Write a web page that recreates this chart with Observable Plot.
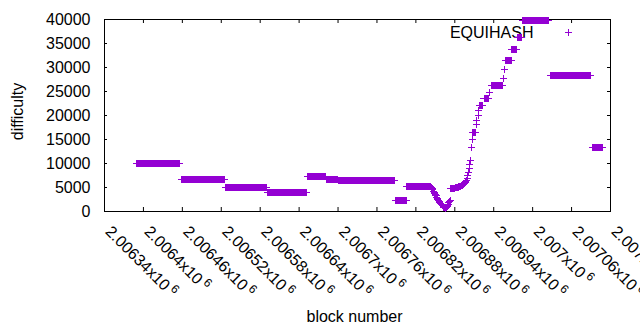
<!DOCTYPE html>
<html><head><meta charset="utf-8">
<script src="https://cdn.jsdelivr.net/npm/d3@7"></script>
<script src="https://cdn.jsdelivr.net/npm/@observablehq/plot@0.6"></script>
<style>body{margin:0;background:#fff}#chart svg{display:block}</style>
</head><body><div id="chart"></div>
<script>
const seriesName = "EQUIHASH";
const xLabel = "block number";
const yLabel = "difficulty";
const xTicks = [2006340, 2006400, 2006460, 2006520, 2006580, 2006640, 2006700, 2006760, 2006820, 2006880, 2006940, 2007000, 2007060, 2007120];
const xTickLabels = ["2.00634", "2.0064", "2.00646", "2.00652", "2.00658", "2.00664", "2.0067", "2.00676", "2.00682", "2.00688", "2.00694", "2.007", "2.00706", "2.00712"];
const xTickExponent = "6";
const yTicks = [0, 5000, 10000, 15000, 20000, 25000, 30000, 35000, 40000];
const yTickLabels = ["0", "5000", "10000", "15000", "20000", "25000", "30000", "35000", "40000"];

// flat runs: consecutive blocks sharing one difficulty
const runStart = [2006390, 2006458, 2006527, 2006591, 2006653, 2006682, 2006700, 2006789, 2006806, 2006908, 2006918, 2006925, 2006936, 2006958, 2006968, 2006976, 2006984, 2007028, 2007092];
const runEnd   = [2006456, 2006525, 2006590, 2006651, 2006681, 2006699, 2006787, 2006805, 2006843, 2006912, 2006923, 2006932, 2006953, 2006967, 2006975, 2006983, 2007025, 2007089, 2007107];
const runValue = [9950, 6610, 4950, 3900, 7240, 6570, 6360, 2230, 5150, 16420, 22120, 23520, 26290, 31510, 33800, 36340, 39800, 28240, 13290];

// individual blocks (transition section)
const pointBlock = [
  2006844, 2006845, 2006846, 2006847, 2006848, 2006849, 2006850, 2006851, 2006852, 2006853, 2006854, 2006855,
  2006856, 2006857, 2006858, 2006859, 2006860, 2006861, 2006862, 2006863, 2006864, 2006865, 2006866,
  2006867, 2006868, 2006869, 2006870, 2006871, 2006872, 2006873,
  2006874, 2006875, 2006876, 2006877, 2006878, 2006879, 2006880, 2006881, 2006882, 2006883, 2006884, 2006885,
  2006886, 2006887, 2006888, 2006889, 2006890, 2006891, 2006892, 2006893, 2006894, 2006895, 2006896, 2006897, 2006898,
  2006899, 2006900, 2006901, 2006902, 2006903, 2006904, 2006906, 2006907,
  2006913, 2006914, 2006916, 2006917, 2006934, 2006955, 2006956
];
const pointValue = [
  4950, 4750, 4500, 4250, 4000, 3750, 3500, 3250, 3000, 2780, 2560, 2350,
  2150, 1950, 1750, 1560, 1380, 1200, 1040, 900, 780, 680, 600,
  800, 1050, 1300, 1550, 1800, 2050, 2300,
  4720, 4740, 4760, 4790, 4810, 4840, 4870, 4900, 4940, 4980, 5020, 5070,
  5120, 5170, 5230, 5290, 5350, 5420, 5500, 5590, 5680, 5800, 5950, 6150, 6450,
  6950, 7500, 8200, 8900, 9700, 10640, 13300, 14900,
  18100, 19000, 20000, 21070, 24890, 27800, 29600
];

const data = [];
runStart.forEach((s, i) => { for (let b = s; b <= runEnd[i]; b++) data.push({block: b, difficulty: runValue[i]}); });
pointBlock.forEach((b, i) => data.push({block: b, difficulty: pointValue[i]}));

const color = "#9400d3";
const FS = 16;

const plot = Plot.plot({
  width: 640, height: 330,
  marginLeft: 104, marginRight: 30, marginTop: 19, marginBottom: 119,
  style: {fontFamily: "'Liberation Sans', Arial, sans-serif", color: "#000", background: "#fff"},
  x: {domain: [2006340, 2007120], axis: null},
  y: {domain: [0, 40000], axis: null},
  marks: [
    Plot.frame({stroke: "#000"}),
    Plot.ruleX(xTicks, {x: d => d, insetTop: 188, stroke: "#000"}),
    Plot.ruleX(xTicks, {x: d => d, insetBottom: 188, stroke: "#000"}),
    Plot.ruleY(yTicks, {y: d => d, insetRight: 503, stroke: "#000"}),
    Plot.ruleY(yTicks, {y: d => d, insetLeft: 503, stroke: "#000"}),
    Plot.text(yTicks, {y: d => d, text: (d, i) => yTickLabels[i], frameAnchor: "left", dx: -14, textAnchor: "end", lineAnchor: "middle", fontSize: FS, fill: "#000"}),
    Plot.text(xTicks, {x: d => d, text: (d, i) => xTickLabels[i] + "x10", frameAnchor: "bottom", dy: 21, rotate: 45, textAnchor: "start", lineAnchor: "bottom", fontSize: FS, fill: "#000"}),
    Plot.text([yLabel], {text: d => d, frameAnchor: "left", dx: -86.5, dy: -4, rotate: -90, textAnchor: "middle", lineAnchor: "middle", fontSize: FS, fill: "#000"}),
    Plot.text([xLabel], {text: d => d, frameAnchor: "bottom", dx: -3, dy: 105, textAnchor: "middle", lineAnchor: "middle", fontSize: FS, fill: "#000"}),
    Plot.text([seriesName], {text: d => d, frameAnchor: "top-right", dx: -77, dy: 18.5, textAnchor: "end", lineAnchor: "bottom", fontSize: FS, fill: "#000"}),
    Plot.dot([seriesName], {frameAnchor: "top-right", dx: -42.3, dy: 13.3, symbol: "plus", r: 2.4, stroke: color, strokeWidth: 1, shapeRendering: "crispEdges"}),
    Plot.dot(data, {x: "block", y: "difficulty", symbol: "plus", r: 2.4, stroke: color, strokeWidth: 1, shapeRendering: "crispEdges"})
  ]
});

d3.select(plot).selectAll("text")
  .filter(function() { return this.textContent.endsWith("x10"); })
  .append("tspan").attr("dx", 3).attr("dy", -6).attr("font-size", 12).text(xTickExponent);

document.getElementById("chart").appendChild(plot);
</script>
</body></html>
